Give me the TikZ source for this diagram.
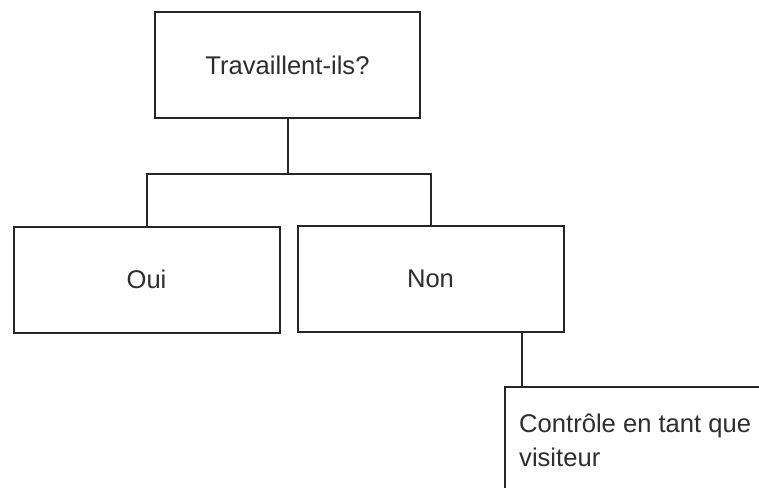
\documentclass[tikz,border=0pt]{standalone}
\usepackage{fontspec}
\setmainfont{Liberation Sans}
\usetikzlibrary{calc}
\definecolor{ink}{HTML}{262626}
\definecolor{txt}{HTML}{2E2E2E}
\begin{document}
\begin{tikzpicture}[x=1pt,y=-1pt,
  box/.style={draw=ink, line width=2pt, fill=white, inner sep=0pt},
  link/.style={draw=ink, line width=2pt},
  lbl/.style={text=txt, font=\fontsize{25.6}{34}\selectfont}]
\clip (0,0) rectangle (759,487);
\fill[white] (0,0) rectangle (759,487);
\node[box, lbl, minimum width=265pt, minimum height=105pt] (q) at (287.5,65) {Travaillent-ils?};
\node[box, lbl, minimum width=266pt, minimum height=106pt] (oui) at (146.5,279.5) {Oui};
\node[box, lbl, minimum width=266pt, minimum height=106pt] (non) at (430.5,278.5) {Non};
\node[box, anchor=north west, minimum width=320pt, minimum height=160pt] (c) at (504,386) {};
\node[lbl, anchor=north west, align=left, inner sep=0pt] (ct) at ($(c.north west)+(15,28)$) {Contrôle en tant que\\visiteur};
\coordinate (bar) at (0,174);
\draw[link] (q.south) -- (q.south |- bar);
\draw[link] (oui.north) |- (bar -| non.north) -- (non.north);
\draw[link] ($(non.south west)!0.843!(non.south east)$) coordinate (d) -- (d |- c.north);
\end{tikzpicture}
\end{document}
